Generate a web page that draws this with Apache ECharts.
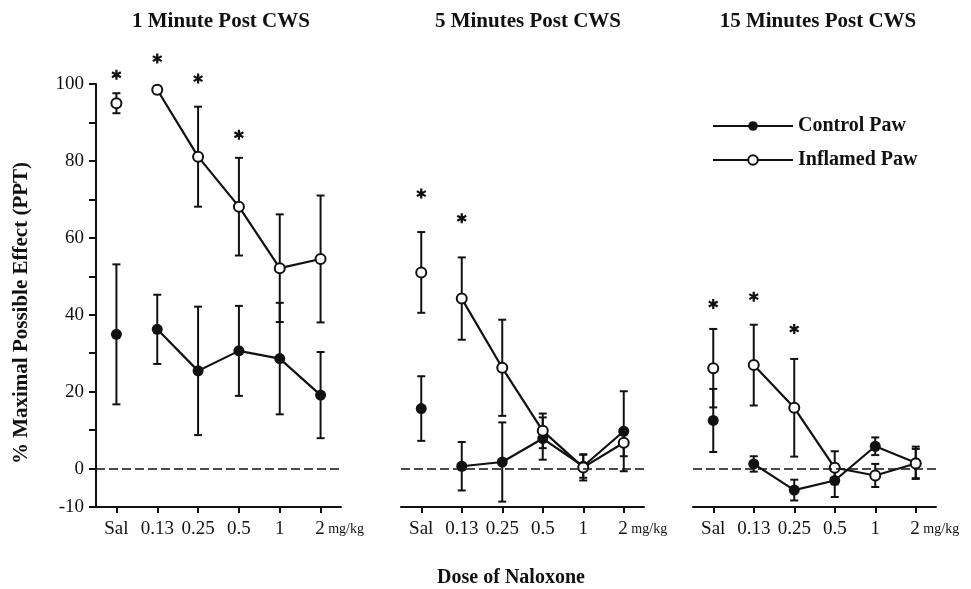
<!DOCTYPE html>
<html>
<head>
<meta charset="utf-8">
<script src="https://cdn.jsdelivr.net/npm/echarts@6/dist/echarts.min.js"></script>
<style>
  html, body { margin: 0; padding: 0; background: #fff; }
  #main { width: 971px; height: 589px; }
</style>
</head>
<body>
<div id="main"></div>
<script type="text/javascript">
	// dose categories (x axis)
	var doses = ['Sal', '0.13', '0.25', '0.5', '1', '2'];
	var panelTitles = ['1 Minute Post CWS', '5 Minutes Post CWS', '15 Minutes Post CWS'];

	// 1 minute post CWS
	var ctrl1 = [34.9, 36.2, 25.4, 30.6, 28.6, 19.1];
	var ctrl1Err = [18.2, 9.0, 16.7, 11.7, 14.5, 11.2];
	var infl1 = [95.0, 98.5, 81.1, 68.1, 52.1, 54.5];
	var infl1Err = [2.6, 1.0, 13.0, 12.7, 14.0, 16.5];
	var star1 = [102.4, 106.6, 101.4, 86.8, '-', '-'];

	// 5 minutes post CWS
	var ctrl5 = [15.6, 0.6, 1.7, 7.8, 0.6, 9.7];
	var ctrl5Err = [8.4, 6.3, 10.3, 5.5, 3.0, 10.4];
	var infl5 = [51.0, 44.2, 26.2, 9.8, 0.3, 6.7];
	var infl5Err = [10.5, 10.7, 12.5, 4.5, 3.4, 3.5];
	var star5 = [71.5, 65.1, '-', '-', '-', '-'];

	// 15 minutes post CWS
	var ctrl15 = [12.5, 1.2, -5.6, -3.1, 5.8, 1.5];
	var ctrl15Err = [8.2, 2.0, 2.7, 4.3, 2.3, 4.2];
	var infl15 = [26.1, 26.9, 15.8, 0.2, -1.8, 1.3];
	var infl15Err = [10.2, 10.5, 12.7, 4.3, 3.0, 3.8];
	var star15 = [42.8, 44.7, 36.3, '-', '-', '-'];

	var yTicks = { min: -10, max: 100, interval: 10 };

	(function() {
		var chart = echarts.init(document.getElementById('main'));
		var serif = 'Liberation Serif, Times New Roman, serif';
		var ink = '#111';

		var panels = [
			{ ctrl: ctrl1, ctrlErr: ctrl1Err, infl: infl1, inflErr: infl1Err, star: star1 },
			{ ctrl: ctrl5, ctrlErr: ctrl5Err, infl: infl5, inflErr: infl5Err, star: star5 },
			{ ctrl: ctrl15, ctrlErr: ctrl15Err, infl: infl15, inflErr: infl15Err, star: star15 }
		];
		var gridPos = [
			{ left: 96, width: 245 },
			{ left: 401, width: 243 },
			{ left: 693, width: 243 }
		];
		var titleX = [216, 523, 813];

		var asterisk = 'path://M1.1,-5L-1.1,-5L-1.1,5L1.1,5Z' +
			'M3.78,3.45L4.88,1.55L-3.78,-3.45L-4.88,-1.55Z' +
			'M-4.88,1.55L-3.78,3.45L4.88,-1.55L3.78,-3.45Z';

		function errRender(params, api) {
			var x = api.value(0);
			var lo = api.coord([x, api.value(1)]);
			var hi = api.coord([x, api.value(2)]);
			var cap = 4;
			var style = { stroke: ink, lineWidth: 2 };
			return {
				type: 'group',
				children: [
					{ type: 'line', shape: { x1: lo[0], y1: lo[1], x2: hi[0], y2: hi[1] }, style: style },
					{ type: 'line', shape: { x1: lo[0] - cap, y1: lo[1], x2: lo[0] + cap, y2: lo[1] }, style: style },
					{ type: 'line', shape: { x1: hi[0] - cap, y1: hi[1], x2: hi[0] + cap, y2: hi[1] }, style: style }
				]
			};
		}

		function errData(mean, err) {
			return mean.map(function(m, i) { return [i, m - err[i], m + err[i]]; });
		}

		function restOnly(arr) {
			return arr.map(function(v, i) { return i === 0 ? '-' : v; });
		}
		function salOnly(arr) {
			return arr.map(function(v, i) { return i === 0 ? v : '-'; });
		}

		var grids = [], xAxes = [], yAxes = [], series = [], titles = [];
		panels.forEach(function(p, k) {
			grids.push({ left: gridPos[k].left, width: gridPos[k].width, top: 84, bottom: 82 });
			titles.push({
				text: panelTitles[k], left: titleX[k], top: 6, textAlign: 'center',
				textStyle: { fontFamily: serif, fontWeight: 'bold', fontSize: 21, color: ink }
			});
			xAxes.push({
				type: 'category', gridIndex: k, data: doses, boundaryGap: true,
				axisLine: { show: true, onZero: false, lineStyle: { color: ink, width: 2 } },
				axisTick: { show: true, alignWithLabel: true, interval: 0, inside: false, length: 6, lineStyle: { color: ink, width: 2 } },
				axisLabel: {
					interval: 0, hideOverlap: false,
					color: ink, fontFamily: serif, fontSize: 19, margin: 13,
					formatter: function(v) { return v === '2' ? '{p|}{n|2}{u| mg/kg}' : v; },
					rich: {
						p: { width: 38 },
						n: { fontFamily: serif, fontSize: 19, color: ink },
						u: { fontFamily: serif, fontSize: 14, color: ink }
					}
				},
				splitLine: { show: false }
			});
			yAxes.push({
				type: 'value', gridIndex: k, show: k === 0,
				min: yTicks.min, max: yTicks.max, interval: yTicks.interval,
				axisLine: { show: true, lineStyle: { color: ink, width: 2 } },
				axisTick: { show: true, length: 7, lineStyle: { color: ink, width: 2 } },
				axisLabel: {
					color: ink, fontFamily: serif, fontSize: 19, margin: 12,
					formatter: function(v) { return (v === -10 || v % 20 === 0) ? String(v) : ''; }
				},
				splitLine: { show: false }
			});

			// error bars
			series.push({
				type: 'custom', xAxisIndex: k, yAxisIndex: k, renderItem: errRender,
				data: errData(p.ctrl, p.ctrlErr), z: 2, silent: true
			});
			series.push({
				type: 'custom', xAxisIndex: k, yAxisIndex: k, renderItem: errRender,
				data: errData(p.infl, p.inflErr), z: 2, silent: true
			});

			// connected lines (0.13 .. 2)
			series.push({
				name: 'Control Paw', type: 'line', xAxisIndex: k, yAxisIndex: k,
				data: restOnly(p.ctrl), symbol: 'circle', symbolSize: 11,
				itemStyle: { color: ink, opacity: 1 }, lineStyle: { color: ink, width: 2.2 }, z: 3,
				markLine: {
					silent: true, symbol: 'none', label: { show: false },
					lineStyle: { color: ink, width: 1.6, type: [9, 4] },
					data: [{ yAxis: 0 }]
				}
			});
			series.push({
				name: 'Inflamed Paw', type: 'line', xAxisIndex: k, yAxisIndex: k,
				data: restOnly(p.infl), symbol: 'circle', symbolSize: 10,
				itemStyle: { color: '#fff', borderColor: ink, borderWidth: 2, opacity: 1 },
				lineStyle: { color: ink, width: 2.2 }, z: 4
			});

			// saline points (not connected)
			series.push({
				name: 'Control Paw', type: 'scatter', xAxisIndex: k, yAxisIndex: k,
				data: salOnly(p.ctrl), symbol: 'circle', symbolSize: 11,
				itemStyle: { color: ink, opacity: 1 }, z: 3
			});
			series.push({
				name: 'Inflamed Paw', type: 'scatter', xAxisIndex: k, yAxisIndex: k,
				data: salOnly(p.infl), symbol: 'circle', symbolSize: 10,
				itemStyle: { color: '#fff', borderColor: ink, borderWidth: 2, opacity: 1 }, z: 4
			});

			// significance stars
			series.push({
				type: 'scatter', xAxisIndex: k, yAxisIndex: k, clip: false,
				data: p.star, symbol: asterisk, symbolSize: 10,
				itemStyle: { color: ink, opacity: 1 }, silent: true, z: 5
			});
		});

		var option = {
			backgroundColor: '#fff',
			animation: false,
			title: titles,
			legend: {
				data: ['Control Paw', 'Inflamed Paw'],
				orient: 'vertical', left: 707, top: 111,
				itemWidth: 80, itemHeight: 12, itemGap: 14,
				textStyle: { fontFamily: serif, fontWeight: 'bold', fontSize: 20, color: ink },
				selectedMode: false
			},
			grid: grids,
			xAxis: xAxes,
			yAxis: yAxes,
			series: series,
			graphic: [
				{
					type: 'text', x: 22, y: 313, rotation: Math.PI / 2,
					style: {
						text: '% Maximal Possible Effect (PPT)', fill: ink,
						font: 'bold 21px ' + serif, textAlign: 'center', textVerticalAlign: 'middle'
					}
				},
				{
					type: 'text', x: 511, y: 578,
					style: {
						text: 'Dose of Naloxone', fill: ink,
						font: 'bold 20px ' + serif, textAlign: 'center', textVerticalAlign: 'middle'
					}
				}
			]
		};

		chart.setOption(option);
	})();
</script>
</body>
</html>
